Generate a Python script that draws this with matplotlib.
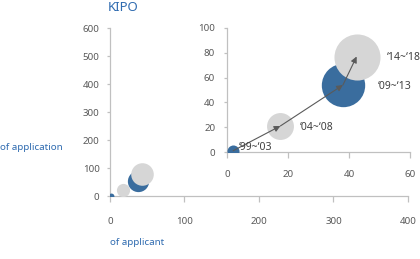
import matplotlib
matplotlib.use("Agg")
import matplotlib.pyplot as plt
import numpy as np

plt.rcParams['font.family'] = ['Noto Sans', 'DejaVu Sans']

periods = ["\u201899~\u201803", "\u201804~\u201808", "\u201809~\u201813", "\u201814~\u201818"]
applicants = [2, 17.5, 38, 42.5]
applications = [1, 21, 54, 77]
bubble_size = [3, 15, 39, 44]
colors = ["#3a6d9e", "#d6d6d6", "#3a6d9e", "#d6d6d6"]
label_dx = [2, 6.5, 11.5, 10]
label_dy = [3, -1, -1, -1]

main_xticks = [0, 100, 200, 300, 400]
main_yticks = [0, 100, 200, 300, 400, 500, 600]
inset_xticks = [0, 20, 40, 60]
inset_yticks = [0, 20, 40, 60, 80, 100]

spine_c = "#c0c0c0"
text_c = "#595959"
blue_t = "#2f6bb0"

fig = plt.figure(figsize=(4.2, 2.59), dpi=100)

def style(ax, xpad, ypad):
    for s in ["top", "right"]:
        ax.spines[s].set_visible(False)
    for s in ["left", "bottom"]:
        ax.spines[s].set_color(spine_c)
        ax.spines[s].set_linewidth(0.9)
    ax.tick_params(axis='both', colors=spine_c, labelcolor=text_c, labelsize=7,
                   direction='out', width=0.9)
    ax.tick_params(axis='x', length=4, pad=xpad)
    ax.tick_params(axis='y', length=2.5, pad=ypad)

# main axes
ax = fig.add_axes([0.2619, 0.2432, 0.7095, 0.6486])
ax.set_xlim(0, 400)
ax.set_ylim(0, 600)
ax.set_xticks(main_xticks)
ax.set_yticks(main_yticks)
style(ax, 11, 5)
for x, y, s, c in zip(applicants, applications, bubble_size, colors):
    ax.scatter([x], [y], s=s * 6.0, color=c, linewidths=0, zorder=3)

# inset axes
ai = fig.add_axes([0.5405, 0.4131, 0.4357, 0.4788])
ai.set_xlim(0, 60)
ai.set_ylim(0, 100)
ai.set_xticks(inset_xticks)
ai.set_yticks(inset_yticks)
ai.patch.set_alpha(0)
style(ai, 9, 6)
for x, y, s, c in zip(applicants, applications, bubble_size, colors):
    ai.scatter([x], [y], s=s * 25.0, color=c, linewidths=0, zorder=3)
for i in range(len(applicants) - 1):
    ai.annotate("", xy=(applicants[i + 1], applications[i + 1]),
                xytext=(applicants[i], applications[i]),
                arrowprops=dict(arrowstyle='-|>', color="#5a5a5a", lw=0.8,
                                mutation_scale=9, shrinkA=0, shrinkB=0),
                zorder=5)
for x, y, lab, dx, dy in zip(applicants, applications, periods, label_dx, label_dy):
    ai.text(x + dx, y + dy, lab, fontsize=7.5, color="#404040",
            va='center', ha='left', zorder=6, clip_on=False)

fig.text(0.293, 0.972, "KIPO", color=blue_t, fontsize=9.5, ha='center', va='center')
fig.text(0.0, 0.432, "of application", color=blue_t, fontsize=7, ha='left', va='center')
fig.text(0.262, 0.062, "of applicant", color=blue_t, fontsize=7, ha='left', va='center')

fig.savefig("out.png", dpi=100)
